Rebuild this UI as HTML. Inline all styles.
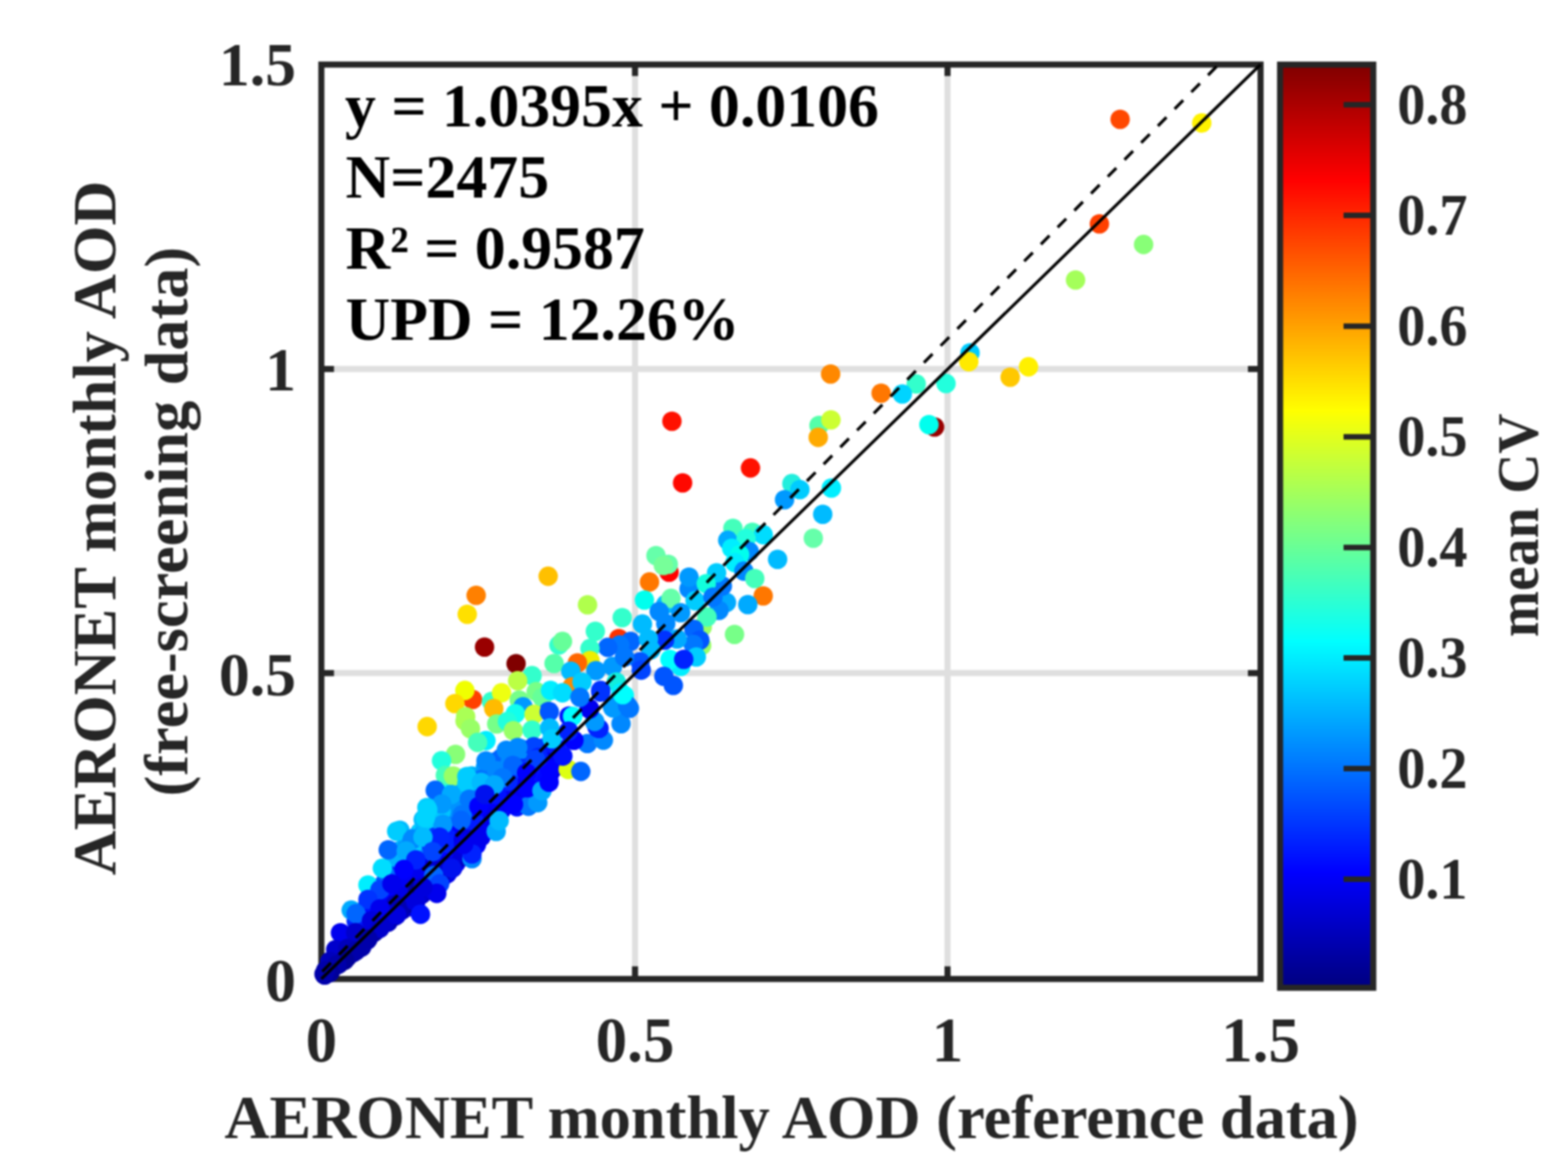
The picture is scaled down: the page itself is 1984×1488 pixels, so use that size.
<!DOCTYPE html>
<html lang="en"><head><meta charset="utf-8"><title>AERONET monthly AOD scatter</title>
<style>html,body{margin:0;padding:0;background:#fff}body{width:1984px;height:1488px;overflow:hidden}svg{display:block;filter:blur(1px)}text{font-family:"Liberation Serif",serif;font-weight:bold}.t{fill:#262626;font-size:79.6px}.y{fill:#262626;font-size:78px}.l{fill:#262626;font-size:79px}.a{fill:#000;font-size:79px}.c{fill:#262626;font-size:73.5px}.m{fill:#262626;font-size:75px}</style></head><body>
<svg width="1984" height="1488" viewBox="0 0 1984 1488">
<rect width="1984" height="1488" fill="#fff"/>
<g stroke="#DFDFDF" stroke-width="7.7" fill="none">
<line x1="803.5" y1="81.7" x2="803.5" y2="1238.7"/>
<line x1="1198.9" y1="81.7" x2="1198.9" y2="1238.7"/>
<line x1="406.6" y1="851.7" x2="1595.0" y2="851.7"/>
<line x1="406.6" y1="466.9" x2="1595.0" y2="466.9"/>
</g>
<g stroke="#262626" stroke-width="7.7" fill="none">
<rect x="406.6" y="81.7" width="1188.4" height="1157.0"/>
<line x1="803.5" y1="1238.7" x2="803.5" y2="1222.7"/>
<line x1="803.5" y1="81.7" x2="803.5" y2="96.2"/>
<line x1="1198.9" y1="1238.7" x2="1198.9" y2="1222.7"/>
<line x1="1198.9" y1="81.7" x2="1198.9" y2="96.2"/>
<line x1="406.6" y1="851.7" x2="422.6" y2="851.7"/>
<line x1="1595.0" y1="851.7" x2="1579.0" y2="851.7"/>
<line x1="406.6" y1="466.9" x2="422.6" y2="466.9"/>
<line x1="1595.0" y1="466.9" x2="1579.0" y2="466.9"/>
</g>
<g id="fill">
<circle cx="410.9" cy="1233.7" r="12.3" fill="#0000B3"/>
<circle cx="418.6" cy="1227.7" r="12.3" fill="#000099"/>
<circle cx="428.6" cy="1219.7" r="12.3" fill="#00008F"/>
<circle cx="439.2" cy="1211.4" r="12.3" fill="#000091"/>
<circle cx="447.0" cy="1205.4" r="12.3" fill="#0000AA"/>
<circle cx="457.6" cy="1198.3" r="12.3" fill="#0000AA"/>
<circle cx="464.5" cy="1189.6" r="12.3" fill="#0000B3"/>
<circle cx="473.1" cy="1179.8" r="12.3" fill="#0000B6"/>
<circle cx="481.2" cy="1172.2" r="12.3" fill="#0000CA"/>
<circle cx="491.0" cy="1166.8" r="12.3" fill="#0000BD"/>
<circle cx="500.4" cy="1158.9" r="12.3" fill="#0000A1"/>
<circle cx="508.6" cy="1151.5" r="12.3" fill="#0000BF"/>
<circle cx="518.6" cy="1147.2" r="12.3" fill="#0000D1"/>
<circle cx="525.0" cy="1138.6" r="12.3" fill="#0000AB"/>
<circle cx="533.4" cy="1131.7" r="12.3" fill="#0000C8"/>
<circle cx="542.6" cy="1125.9" r="12.3" fill="#0000B7"/>
<circle cx="550.6" cy="1120.4" r="12.3" fill="#0000D8"/>
<circle cx="558.0" cy="1112.5" r="12.3" fill="#0000CE"/>
<circle cx="565.8" cy="1105.5" r="12.3" fill="#0000E8"/>
<circle cx="572.8" cy="1098.3" r="12.3" fill="#0000DE"/>
<circle cx="577.1" cy="1091.8" r="12.3" fill="#0000F2"/>
<circle cx="583.5" cy="1084.9" r="12.3" fill="#0000CF"/>
<circle cx="589.8" cy="1077.7" r="12.3" fill="#0000DB"/>
<circle cx="597.5" cy="1072.2" r="12.3" fill="#0000CF"/>
<circle cx="602.7" cy="1066.4" r="12.3" fill="#0000EE"/>
<circle cx="608.8" cy="1058.8" r="12.3" fill="#0000F1"/>
<circle cx="616.8" cy="1049.6" r="12.3" fill="#0002FF"/>
<circle cx="624.7" cy="1042.8" r="12.3" fill="#0000DD"/>
<circle cx="476.3" cy="1145.5" r="12.3" fill="#0011FF"/>
<circle cx="590.9" cy="1013.9" r="12.3" fill="#009CFF"/>
<circle cx="596.6" cy="1009.7" r="12.3" fill="#0077FF"/>
<circle cx="512.6" cy="1139.2" r="12.3" fill="#0000BB"/>
<circle cx="600.0" cy="1042.3" r="12.3" fill="#0000DC"/>
<circle cx="496.3" cy="1137.0" r="12.3" fill="#0000E2"/>
<circle cx="504.6" cy="1133.1" r="12.3" fill="#0000EF"/>
<circle cx="586.6" cy="1021.3" r="12.3" fill="#007FFF"/>
<circle cx="665.5" cy="996.0" r="12.3" fill="#0000FC"/>
<circle cx="601.3" cy="1062.9" r="12.3" fill="#0000E7"/>
<circle cx="619.0" cy="983.8" r="12.3" fill="#005EFF"/>
<circle cx="628.5" cy="977.3" r="12.3" fill="#0066FF"/>
<circle cx="690.0" cy="947.9" r="12.3" fill="#0044FF"/>
<circle cx="520.6" cy="1102.0" r="12.3" fill="#0018FF"/>
<circle cx="608.4" cy="985.6" r="12.3" fill="#0081FF"/>
<circle cx="656.0" cy="975.3" r="12.3" fill="#0000F8"/>
<circle cx="703.7" cy="947.5" r="12.3" fill="#000FFF"/>
<circle cx="492.9" cy="1153.2" r="12.3" fill="#0000DF"/>
<circle cx="571.5" cy="1081.0" r="12.3" fill="#0000D3"/>
<circle cx="580.1" cy="1077.1" r="12.3" fill="#0000D7"/>
<circle cx="572.4" cy="1052.4" r="12.3" fill="#0065FF"/>
<circle cx="552.5" cy="1021.5" r="12.3" fill="#00E3FF"/>
<circle cx="696.1" cy="961.4" r="12.3" fill="#0004FF"/>
<circle cx="619.9" cy="1023.1" r="12.3" fill="#0000F9"/>
<circle cx="513.7" cy="1118.3" r="12.3" fill="#0020FF"/>
<circle cx="569.7" cy="1059.8" r="12.3" fill="#0038FF"/>
<circle cx="674.2" cy="994.5" r="12.3" fill="#0000F8"/>
<circle cx="684.0" cy="962.9" r="12.3" fill="#0000DD"/>
<circle cx="476.6" cy="1152.5" r="12.3" fill="#0000F7"/>
<circle cx="652.8" cy="960.3" r="12.3" fill="#005CFF"/>
<circle cx="576.5" cy="1084.7" r="12.3" fill="#0000CC"/>
<circle cx="696.6" cy="950.5" r="12.3" fill="#0009FF"/>
<circle cx="419.8" cy="1224.5" r="12.3" fill="#000080"/>
<circle cx="564.9" cy="1057.6" r="12.3" fill="#0042FF"/>
<circle cx="601.4" cy="1049.4" r="12.3" fill="#0000CA"/>
<circle cx="613.1" cy="1028.1" r="12.3" fill="#0000EF"/>
<circle cx="570.6" cy="1044.7" r="12.3" fill="#0075FF"/>
<circle cx="576.0" cy="1082.5" r="12.3" fill="#0000D9"/>
<circle cx="490.7" cy="1149.3" r="12.3" fill="#0000D6"/>
<circle cx="537.4" cy="1072.8" r="12.3" fill="#0063FF"/>
<circle cx="586.3" cy="1054.3" r="12.3" fill="#0001FF"/>
<circle cx="635.0" cy="996.3" r="12.3" fill="#0004FF"/>
<circle cx="436.4" cy="1205.7" r="12.3" fill="#0000BD"/>
<circle cx="641.1" cy="980.7" r="12.3" fill="#0019FF"/>
<circle cx="519.4" cy="1073.1" r="12.3" fill="#009EFF"/>
<circle cx="646.0" cy="988.2" r="12.3" fill="#0033FF"/>
<circle cx="504.1" cy="1095.6" r="12.3" fill="#0073FF"/>
<circle cx="580.5" cy="1075.2" r="12.3" fill="#0000A3"/>
<circle cx="619.3" cy="1015.6" r="12.3" fill="#0016FF"/>
<circle cx="657.0" cy="1017.5" r="12.3" fill="#0000EB"/>
<circle cx="456.5" cy="1162.9" r="12.3" fill="#001DFF"/>
<circle cx="607.7" cy="998.5" r="12.3" fill="#0058FF"/>
<circle cx="470.5" cy="1164.9" r="12.3" fill="#0000B4"/>
<circle cx="558.0" cy="1091.9" r="12.3" fill="#0000CD"/>
<circle cx="648.3" cy="977.4" r="12.3" fill="#004BFF"/>
<circle cx="475.3" cy="1149.5" r="12.3" fill="#0012FF"/>
<circle cx="590.3" cy="991.7" r="12.3" fill="#00BFFF"/>
<circle cx="455.2" cy="1162.4" r="12.3" fill="#0025FF"/>
<circle cx="499.8" cy="1095.4" r="12.3" fill="#008EFF"/>
<circle cx="568.8" cy="1085.1" r="12.3" fill="#0000BD"/>
<circle cx="610.4" cy="996.0" r="12.3" fill="#0081FF"/>
<circle cx="553.6" cy="1070.0" r="12.3" fill="#0036FF"/>
<circle cx="693.4" cy="949.1" r="12.3" fill="#001FFF"/>
<circle cx="573.9" cy="1088.2" r="12.3" fill="#0000C9"/>
<circle cx="450.4" cy="1186.2" r="12.3" fill="#0000C7"/>
<circle cx="515.1" cy="1139.9" r="12.3" fill="#0000D8"/>
<circle cx="627.2" cy="996.0" r="12.3" fill="#001DFF"/>
<circle cx="655.8" cy="986.2" r="12.3" fill="#0002FF"/>
<circle cx="597.1" cy="1012.9" r="12.3" fill="#0047FF"/>
<circle cx="525.5" cy="1133.3" r="12.3" fill="#0000DD"/>
<circle cx="634.1" cy="1025.4" r="12.3" fill="#000BFF"/>
<circle cx="631.6" cy="1026.1" r="12.3" fill="#0000E1"/>
<circle cx="509.5" cy="1128.2" r="12.3" fill="#0000FB"/>
<circle cx="450.7" cy="1165.3" r="12.3" fill="#0024FF"/>
<circle cx="512.8" cy="1080.1" r="12.3" fill="#00ABFF"/>
<circle cx="600.7" cy="983.3" r="12.3" fill="#00C9FF"/>
<circle cx="579.3" cy="1004.6" r="12.3" fill="#00F9FF"/>
<circle cx="665.8" cy="979.4" r="12.3" fill="#0000DE"/>
<circle cx="610.7" cy="1018.4" r="12.3" fill="#0010FF"/>
<circle cx="522.1" cy="1109.4" r="12.3" fill="#0000E2"/>
<circle cx="566.3" cy="1004.4" r="12.3" fill="#00E0FF"/>
<circle cx="550.4" cy="1051.7" r="12.3" fill="#007CFF"/>
<circle cx="530.9" cy="1058.9" r="12.3" fill="#0079FF"/>
<circle cx="568.3" cy="1088.0" r="12.3" fill="#0000C1"/>
<circle cx="640.6" cy="1017.5" r="12.3" fill="#0000E7"/>
<circle cx="560.8" cy="1047.0" r="12.3" fill="#006BFF"/>
<circle cx="471.0" cy="1158.9" r="12.3" fill="#0000C1"/>
<circle cx="687.0" cy="982.6" r="12.3" fill="#0000E9"/>
<circle cx="632.2" cy="1020.2" r="12.3" fill="#0015FF"/>
<circle cx="628.2" cy="963.2" r="12.3" fill="#006DFF"/>
<circle cx="627.4" cy="982.9" r="12.3" fill="#0060FF"/>
<circle cx="519.2" cy="1131.8" r="12.3" fill="#0000D6"/>
<circle cx="488.6" cy="1124.8" r="12.3" fill="#0074FF"/>
<circle cx="540.9" cy="1089.1" r="12.3" fill="#003CFF"/>
<circle cx="591.9" cy="1011.1" r="12.3" fill="#0074FF"/>
<circle cx="641.8" cy="998.7" r="12.3" fill="#0038FF"/>
<circle cx="515.1" cy="1130.6" r="12.3" fill="#0000D3"/>
<circle cx="649.5" cy="972.9" r="12.3" fill="#001DFF"/>
<circle cx="594.6" cy="995.3" r="12.3" fill="#0074FF"/>
<circle cx="539.1" cy="1061.3" r="12.3" fill="#0095FF"/>
<circle cx="653.3" cy="996.2" r="12.3" fill="#0007FF"/>
<circle cx="684.8" cy="965.3" r="12.3" fill="#0015FF"/>
<circle cx="576.6" cy="997.3" r="12.3" fill="#00A6FF"/>
<circle cx="509.8" cy="1142.3" r="12.3" fill="#0000D0"/>
<circle cx="676.1" cy="985.5" r="12.3" fill="#0000F4"/>
<circle cx="621.2" cy="1036.1" r="12.3" fill="#0000EF"/>
<circle cx="628.9" cy="1006.0" r="12.3" fill="#000EFF"/>
<circle cx="626.1" cy="1003.3" r="12.3" fill="#0030FF"/>
<circle cx="489.7" cy="1148.1" r="12.3" fill="#0000CB"/>
<circle cx="677.1" cy="992.3" r="12.3" fill="#000AFF"/>
<circle cx="469.2" cy="1140.5" r="12.3" fill="#001AFF"/>
<circle cx="677.9" cy="995.1" r="12.3" fill="#0000C7"/>
<circle cx="536.9" cy="1045.6" r="12.3" fill="#00DFFF"/>
<circle cx="505.0" cy="1079.1" r="12.3" fill="#00B8FF"/>
<circle cx="528.8" cy="1072.1" r="12.3" fill="#0091FF"/>
<circle cx="587.5" cy="1070.1" r="12.3" fill="#0000FC"/>
<circle cx="483.8" cy="1133.8" r="12.3" fill="#0031FF"/>
<circle cx="516.0" cy="1104.4" r="12.3" fill="#0047FF"/>
<circle cx="531.5" cy="1053.0" r="12.3" fill="#00B6FF"/>
<circle cx="617.7" cy="995.1" r="12.3" fill="#0080FF"/>
<circle cx="500.3" cy="1149.1" r="12.3" fill="#0000B2"/>
<circle cx="557.0" cy="1100.4" r="12.3" fill="#0000AF"/>
<circle cx="452.0" cy="1197.2" r="12.3" fill="#0000B4"/>
<circle cx="629.1" cy="1000.6" r="12.3" fill="#001FFF"/>
<circle cx="629.0" cy="1024.6" r="12.3" fill="#0000D6"/>
<circle cx="581.6" cy="1054.6" r="12.3" fill="#002DFF"/>
<circle cx="614.2" cy="993.9" r="12.3" fill="#0061FF"/>
<circle cx="602.1" cy="1046.9" r="12.3" fill="#0000EA"/>
<circle cx="491.5" cy="1154.0" r="12.3" fill="#0000D0"/>
<circle cx="573.6" cy="1074.6" r="12.3" fill="#0000DD"/>
<circle cx="656.1" cy="967.0" r="12.3" fill="#003FFF"/>
<circle cx="600.1" cy="1007.7" r="12.3" fill="#006DFF"/>
<circle cx="555.0" cy="1052.7" r="12.3" fill="#007BFF"/>
<circle cx="632.0" cy="976.3" r="12.3" fill="#0046FF"/>
<circle cx="499.2" cy="1084.6" r="12.3" fill="#00BDFF"/>
<circle cx="625.7" cy="1000.2" r="12.3" fill="#0030FF"/>
<circle cx="584.6" cy="992.7" r="12.3" fill="#00B9FF"/>
<circle cx="516.7" cy="1124.2" r="12.3" fill="#0000EF"/>
<circle cx="637.3" cy="987.6" r="12.3" fill="#0031FF"/>
<circle cx="617.7" cy="976.7" r="12.3" fill="#0066FF"/>
<circle cx="625.9" cy="976.9" r="12.3" fill="#0067FF"/>
<circle cx="603.1" cy="1041.0" r="12.3" fill="#001BFF"/>
<circle cx="606.0" cy="987.9" r="12.3" fill="#0064FF"/>
<circle cx="561.6" cy="1101.7" r="12.3" fill="#0000B2"/>
<circle cx="600.7" cy="1063.0" r="12.3" fill="#0000C6"/>
<circle cx="698.1" cy="968.6" r="12.3" fill="#0000F0"/>
<circle cx="636.2" cy="1020.1" r="12.3" fill="#0000E7"/>
<circle cx="545.3" cy="1091.6" r="12.3" fill="#0000B2"/>
<circle cx="677.0" cy="982.7" r="12.3" fill="#0000F5"/>
<circle cx="477.4" cy="1176.0" r="12.3" fill="#0000DA"/>
<circle cx="655.0" cy="968.6" r="12.3" fill="#0031FF"/>
<circle cx="601.5" cy="1009.1" r="12.3" fill="#0062FF"/>
<circle cx="530.9" cy="1066.2" r="12.3" fill="#0053FF"/>
<circle cx="510.8" cy="1145.2" r="12.3" fill="#0000C0"/>
<circle cx="493.7" cy="1142.4" r="12.3" fill="#0000DE"/>
<circle cx="431.8" cy="1206.9" r="12.3" fill="#0000AD"/>
<circle cx="614.1" cy="1030.0" r="12.3" fill="#002AFF"/>
<circle cx="550.1" cy="1035.8" r="12.3" fill="#009FFF"/>
<circle cx="548.7" cy="1021.1" r="12.3" fill="#00F0FF"/>
<circle cx="528.4" cy="1129.9" r="12.3" fill="#0000AB"/>
<circle cx="571.5" cy="1090.8" r="12.3" fill="#0000F8"/>
<circle cx="563.9" cy="1014.1" r="12.3" fill="#00F8FF"/>
<circle cx="648.8" cy="999.0" r="12.3" fill="#0000F4"/>
<circle cx="578.6" cy="1067.0" r="12.3" fill="#0000EC"/>
<circle cx="672.2" cy="953.4" r="12.3" fill="#003FFF"/>
<circle cx="530.1" cy="1115.9" r="12.3" fill="#0000C7"/>
<circle cx="449.2" cy="1181.9" r="12.3" fill="#0000DD"/>
<circle cx="505.2" cy="1076.5" r="12.3" fill="#0091FF"/>
<circle cx="636.6" cy="1002.7" r="12.3" fill="#0000FB"/>
<circle cx="552.6" cy="1034.7" r="12.3" fill="#00D2FF"/>
<circle cx="537.8" cy="1064.3" r="12.3" fill="#00ABFF"/>
<circle cx="575.2" cy="1047.9" r="12.3" fill="#0044FF"/>
<circle cx="517.0" cy="1111.4" r="12.3" fill="#0002FF"/>
<circle cx="491.4" cy="1137.6" r="12.3" fill="#0010FF"/>
<circle cx="693.4" cy="944.0" r="12.3" fill="#0027FF"/>
<circle cx="543.3" cy="1059.8" r="12.3" fill="#0064FF"/>
<circle cx="439.5" cy="1199.6" r="12.3" fill="#0000BA"/>
<circle cx="538.2" cy="1040.8" r="12.3" fill="#00D8FF"/>
<circle cx="524.3" cy="1103.8" r="12.3" fill="#0022FF"/>
<circle cx="586.8" cy="1073.8" r="12.3" fill="#0000C9"/>
<circle cx="623.2" cy="994.7" r="12.3" fill="#0041FF"/>
<circle cx="584.0" cy="1002.3" r="12.3" fill="#00D5FF"/>
<circle cx="538.5" cy="1117.6" r="12.3" fill="#00008D"/>
<circle cx="650.9" cy="989.9" r="12.3" fill="#0000F4"/>
<circle cx="620.6" cy="1036.5" r="12.3" fill="#000EFF"/>
<circle cx="632.6" cy="1004.7" r="12.3" fill="#0006FF"/>
<circle cx="571.9" cy="1001.1" r="12.3" fill="#00E0FF"/>
<circle cx="679.6" cy="971.2" r="12.3" fill="#0013FF"/>
<circle cx="648.1" cy="1003.2" r="12.3" fill="#002AFF"/>
<circle cx="581.1" cy="1031.6" r="12.3" fill="#006BFF"/>
<circle cx="688.6" cy="952.6" r="12.3" fill="#000DFF"/>
<circle cx="568.5" cy="1033.4" r="12.3" fill="#007DFF"/>
<circle cx="555.8" cy="1098.4" r="12.3" fill="#0000F1"/>
<circle cx="507.4" cy="1144.7" r="12.3" fill="#0000BC"/>
<circle cx="698.6" cy="947.6" r="12.3" fill="#0000D3"/>
<circle cx="568.4" cy="1027.3" r="12.3" fill="#0091FF"/>
<circle cx="476.2" cy="1129.4" r="12.3" fill="#004BFF"/>
<circle cx="692.6" cy="965.9" r="12.3" fill="#0020FF"/>
<circle cx="703.1" cy="946.1" r="12.3" fill="#000FFF"/>
<circle cx="581.9" cy="1014.2" r="12.3" fill="#0098FF"/>
<circle cx="547.1" cy="1113.0" r="12.3" fill="#0000DF"/>
<circle cx="470.3" cy="1175.7" r="12.3" fill="#0000A1"/>
<circle cx="598.0" cy="1038.2" r="12.3" fill="#0000EA"/>
<circle cx="533.4" cy="1092.8" r="12.3" fill="#0026FF"/>
<circle cx="547.3" cy="1026.4" r="12.3" fill="#01FFFE"/>
<circle cx="682.2" cy="972.0" r="12.3" fill="#0000F4"/>
<circle cx="631.5" cy="995.2" r="12.3" fill="#0020FF"/>
<circle cx="511.1" cy="1099.0" r="12.3" fill="#004BFF"/>
<circle cx="564.5" cy="1041.3" r="12.3" fill="#0093FF"/>
<circle cx="656.0" cy="995.0" r="12.3" fill="#0000F6"/>
<circle cx="561.3" cy="1056.4" r="12.3" fill="#0013FF"/>
<circle cx="556.8" cy="1074.3" r="12.3" fill="#0005FF"/>
<circle cx="561.0" cy="1029.6" r="12.3" fill="#00B6FF"/>
<circle cx="656.4" cy="976.4" r="12.3" fill="#0033FF"/>
<circle cx="660.7" cy="1017.1" r="12.3" fill="#0000F8"/>
<circle cx="654.6" cy="993.2" r="12.3" fill="#0036FF"/>
<circle cx="567.2" cy="1076.1" r="12.3" fill="#001DFF"/>
<circle cx="571.3" cy="1071.4" r="12.3" fill="#0000FA"/>
<circle cx="638.3" cy="999.9" r="12.3" fill="#001BFF"/>
<circle cx="513.7" cy="1088.6" r="12.3" fill="#008FFF"/>
<circle cx="706.9" cy="959.0" r="12.3" fill="#0000E3"/>
<circle cx="487.2" cy="1150.3" r="12.3" fill="#0000EE"/>
<circle cx="632.6" cy="1022.2" r="12.3" fill="#0000F0"/>
<circle cx="529.0" cy="1127.9" r="12.3" fill="#0000A5"/>
<circle cx="555.7" cy="1108.1" r="12.3" fill="#0000B6"/>
<circle cx="562.8" cy="1051.3" r="12.3" fill="#0098FF"/>
<circle cx="599.6" cy="1051.6" r="12.3" fill="#0000D3"/>
<circle cx="545.6" cy="1071.5" r="12.3" fill="#0071FF"/>
<circle cx="637.1" cy="1014.8" r="12.3" fill="#0000E4"/>
<circle cx="472.3" cy="1166.5" r="12.3" fill="#000097"/>
<circle cx="509.3" cy="1147.7" r="12.3" fill="#0000DB"/>
<circle cx="645.2" cy="1003.0" r="12.3" fill="#0000FB"/>
<circle cx="596.3" cy="990.7" r="12.3" fill="#0065FF"/>
<circle cx="525.2" cy="1108.9" r="12.3" fill="#002DFF"/>
<circle cx="480.5" cy="1145.7" r="12.3" fill="#0000E8"/>
<circle cx="569.1" cy="1078.5" r="12.3" fill="#0000D2"/>
<circle cx="593.9" cy="1067.3" r="12.3" fill="#000095"/>
<circle cx="519.9" cy="1130.3" r="12.3" fill="#0000B7"/>
<circle cx="467.6" cy="1145.1" r="12.3" fill="#0026FF"/>
<circle cx="681.1" cy="989.9" r="12.3" fill="#0000E8"/>
<circle cx="551.7" cy="1020.4" r="12.3" fill="#00CFFF"/>
<circle cx="626.0" cy="989.1" r="12.3" fill="#005BFF"/>
<circle cx="473.2" cy="1149.9" r="12.3" fill="#0030FF"/>
<circle cx="492.5" cy="1099.6" r="12.3" fill="#0094FF"/>
<circle cx="499.3" cy="1109.4" r="12.3" fill="#004EFF"/>
<circle cx="563.8" cy="1019.8" r="12.3" fill="#00D4FF"/>
<circle cx="561.3" cy="1070.0" r="12.3" fill="#0000FA"/>
<circle cx="527.2" cy="1096.9" r="12.3" fill="#0020FF"/>
<circle cx="564.7" cy="1019.1" r="12.3" fill="#00D9FF"/>
<circle cx="573.9" cy="1027.8" r="12.3" fill="#0069FF"/>
<circle cx="610.1" cy="988.6" r="12.3" fill="#00A1FF"/>
<circle cx="603.8" cy="1003.9" r="12.3" fill="#0075FF"/>
<circle cx="664.9" cy="979.0" r="12.3" fill="#0000F3"/>
<circle cx="580.2" cy="1042.5" r="12.3" fill="#001DFF"/>
<circle cx="663.6" cy="1000.7" r="12.3" fill="#0000F3"/>
<circle cx="600.9" cy="1042.6" r="12.3" fill="#0000E7"/>
<circle cx="522.9" cy="1089.9" r="12.3" fill="#0054FF"/>
<circle cx="580.8" cy="996.4" r="12.3" fill="#00D0FF"/>
<circle cx="460.7" cy="1151.9" r="12.3" fill="#0054FF"/>
<circle cx="571.4" cy="1040.2" r="12.3" fill="#0076FF"/>
<circle cx="562.5" cy="1044.2" r="12.3" fill="#006DFF"/>
<circle cx="596.8" cy="981.9" r="12.3" fill="#00BEFF"/>
<circle cx="525.5" cy="1093.4" r="12.3" fill="#0044FF"/>
<circle cx="515.9" cy="1113.7" r="12.3" fill="#0006FF"/>
<circle cx="601.2" cy="1009.5" r="12.3" fill="#004BFF"/>
<circle cx="622.0" cy="980.7" r="12.3" fill="#008BFF"/>
<circle cx="671.7" cy="983.6" r="12.3" fill="#0000E4"/>
<circle cx="629.1" cy="994.4" r="12.3" fill="#002DFF"/>
<circle cx="619.4" cy="968.6" r="12.3" fill="#00A4FF"/>
<circle cx="563.0" cy="1083.3" r="12.3" fill="#0000A1"/>
<circle cx="554.9" cy="1047.4" r="12.3" fill="#0070FF"/>
<circle cx="616.9" cy="968.2" r="12.3" fill="#00A2FF"/>
<circle cx="593.1" cy="1070.5" r="12.3" fill="#0000CD"/>
<circle cx="423.5" cy="1215.5" r="12.3" fill="#0000EA"/>
<circle cx="502.5" cy="1151.7" r="12.3" fill="#0000E4"/>
<circle cx="606.2" cy="1036.7" r="12.3" fill="#0000E1"/>
<circle cx="530.2" cy="1127.5" r="12.3" fill="#0000B7"/>
<circle cx="517.2" cy="1127.1" r="12.3" fill="#0000E5"/>
<circle cx="523.5" cy="1125.6" r="12.3" fill="#0000C7"/>
<circle cx="685.4" cy="946.9" r="12.3" fill="#0040FF"/>
<circle cx="481.5" cy="1162.9" r="12.3" fill="#0000CB"/>
<circle cx="512.9" cy="1071.5" r="12.3" fill="#00E5FF"/>
<circle cx="591.6" cy="1022.2" r="12.3" fill="#006BFF"/>
<circle cx="614.2" cy="970.6" r="12.3" fill="#00A7FF"/>
<circle cx="569.6" cy="1052.3" r="12.3" fill="#0013FF"/>
<circle cx="540.5" cy="1068.9" r="12.3" fill="#0060FF"/>
<circle cx="580.6" cy="1009.4" r="12.3" fill="#00A7FF"/>
<circle cx="450.8" cy="1184.3" r="12.3" fill="#0000BE"/>
<circle cx="477.2" cy="1127.5" r="12.3" fill="#0049FF"/>
<circle cx="539.9" cy="1066.2" r="12.3" fill="#0047FF"/>
<circle cx="549.7" cy="1038.5" r="12.3" fill="#0096FF"/>
<circle cx="627.6" cy="1024.4" r="12.3" fill="#0000F5"/>
<circle cx="473.9" cy="1151.7" r="12.3" fill="#0006FF"/>
<circle cx="513.6" cy="1070.9" r="12.3" fill="#00A9FF"/>
<circle cx="653.9" cy="1003.8" r="12.3" fill="#0009FF"/>
<circle cx="657.5" cy="958.8" r="12.3" fill="#0016FF"/>
<circle cx="478.6" cy="1154.0" r="12.3" fill="#0000E3"/>
<circle cx="532.0" cy="1094.8" r="12.3" fill="#002DFF"/>
<circle cx="528.0" cy="1100.8" r="12.3" fill="#0013FF"/>
<circle cx="615.8" cy="1027.4" r="12.3" fill="#0001FF"/>
<circle cx="557.3" cy="1040.9" r="12.3" fill="#0096FF"/>
<circle cx="542.0" cy="1088.2" r="12.3" fill="#001DFF"/>
<circle cx="557.8" cy="1030.0" r="12.3" fill="#00BEFF"/>
<circle cx="648.7" cy="1008.0" r="12.3" fill="#0000D5"/>
<circle cx="487.5" cy="1135.1" r="12.3" fill="#0027FF"/>
<circle cx="531.3" cy="1071.3" r="12.3" fill="#0087FF"/>
<circle cx="539.3" cy="1110.7" r="12.3" fill="#0002FF"/>
<circle cx="594.0" cy="1031.9" r="12.3" fill="#0017FF"/>
<circle cx="467.0" cy="1153.9" r="12.3" fill="#0014FF"/>
<circle cx="563.0" cy="1006.8" r="12.3" fill="#00F6FF"/>
<circle cx="503.8" cy="1124.6" r="12.3" fill="#0031FF"/>
<circle cx="622.0" cy="1037.6" r="12.3" fill="#001EFF"/>
<circle cx="596.4" cy="1033.4" r="12.3" fill="#001BFF"/>
<circle cx="567.7" cy="1005.1" r="12.3" fill="#00F3FF"/>
<circle cx="563.3" cy="1006.0" r="12.3" fill="#16FFE9"/>
<circle cx="496.8" cy="1114.3" r="12.3" fill="#0043FF"/>
<circle cx="502.3" cy="1132.7" r="12.3" fill="#002FFF"/>
<circle cx="703.6" cy="960.6" r="12.3" fill="#0000DA"/>
<circle cx="585.2" cy="1052.3" r="12.3" fill="#0000F1"/>
<circle cx="558.0" cy="1054.4" r="12.3" fill="#005DFF"/>
<circle cx="624.7" cy="994.4" r="12.3" fill="#002FFF"/>
<circle cx="632.7" cy="998.3" r="12.3" fill="#0000F6"/>
<circle cx="538.7" cy="1117.2" r="12.3" fill="#0000C6"/>
<circle cx="622.2" cy="991.5" r="12.3" fill="#0046FF"/>
<circle cx="657.9" cy="989.1" r="12.3" fill="#0000FC"/>
<circle cx="486.9" cy="1117.4" r="12.3" fill="#0060FF"/>
<circle cx="578.8" cy="1050.9" r="12.3" fill="#002EFF"/>
<circle cx="678.8" cy="969.2" r="12.3" fill="#0000FF"/>
<circle cx="489.6" cy="1114.1" r="12.3" fill="#0052FF"/>
<circle cx="586.3" cy="1002.3" r="12.3" fill="#00CDFF"/>
<circle cx="607.0" cy="1019.4" r="12.3" fill="#0031FF"/>
<circle cx="595.3" cy="997.4" r="12.3" fill="#0097FF"/>
<circle cx="582.3" cy="999.1" r="12.3" fill="#00A0FF"/>
<circle cx="630.5" cy="992.0" r="12.3" fill="#0012FF"/>
<circle cx="575.0" cy="1085.7" r="12.3" fill="#0000C0"/>
<circle cx="576.9" cy="995.5" r="12.3" fill="#00CFFF"/>
<circle cx="493.8" cy="1103.9" r="12.3" fill="#005AFF"/>
<circle cx="457.0" cy="1172.5" r="12.3" fill="#0000E7"/>
<circle cx="596.0" cy="1014.6" r="12.3" fill="#0037FF"/>
<circle cx="468.9" cy="1154.7" r="12.3" fill="#0010FF"/>
<circle cx="645.8" cy="1012.3" r="12.3" fill="#0000DE"/>
<circle cx="684.3" cy="976.7" r="12.3" fill="#0012FF"/>
<circle cx="627.9" cy="974.4" r="12.3" fill="#001AFF"/>
<circle cx="550.9" cy="1096.9" r="12.3" fill="#0000CC"/>
<circle cx="591.7" cy="1006.8" r="12.3" fill="#0053FF"/>
<circle cx="556.0" cy="1012.2" r="12.3" fill="#00FCFF"/>
<circle cx="540.0" cy="1055.0" r="12.3" fill="#008BFF"/>
<circle cx="574.8" cy="1027.2" r="12.3" fill="#0072FF"/>
<circle cx="481.5" cy="1148.1" r="12.3" fill="#0000D6"/>
<circle cx="540.3" cy="1048.3" r="12.3" fill="#00C2FF"/>
<circle cx="661.9" cy="1008.2" r="12.3" fill="#0006FF"/>
<circle cx="657.7" cy="1007.5" r="12.3" fill="#0000F7"/>
<circle cx="472.8" cy="1140.4" r="12.3" fill="#000CFF"/>
<circle cx="542.4" cy="1092.2" r="12.3" fill="#0000EF"/>
<circle cx="651.4" cy="999.4" r="12.3" fill="#0000F7"/>
<circle cx="620.1" cy="1021.4" r="12.3" fill="#0000F6"/>
<circle cx="568.0" cy="1034.1" r="12.3" fill="#0060FF"/>
<circle cx="634.3" cy="1001.1" r="12.3" fill="#0032FF"/>
<circle cx="591.2" cy="1057.8" r="12.3" fill="#0000D7"/>
<circle cx="636.4" cy="969.9" r="12.3" fill="#004AFF"/>
<circle cx="474.6" cy="1169.2" r="12.3" fill="#0000C4"/>
<circle cx="590.7" cy="1067.3" r="12.3" fill="#0000CC"/>
<circle cx="606.6" cy="1051.5" r="12.3" fill="#0000F4"/>
<circle cx="611.5" cy="999.4" r="12.3" fill="#003EFF"/>
<circle cx="594.3" cy="1057.4" r="12.3" fill="#0000E0"/>
<circle cx="543.3" cy="1057.3" r="12.3" fill="#009CFF"/>
<circle cx="543.6" cy="1062.9" r="12.3" fill="#0064FF"/>
<circle cx="578.2" cy="1086.3" r="12.3" fill="#0000C8"/>
<circle cx="704.4" cy="963.9" r="12.3" fill="#003CFF"/>
<circle cx="653.2" cy="1009.4" r="12.3" fill="#0000CD"/>
<circle cx="492.6" cy="1133.3" r="12.3" fill="#0019FF"/>
<circle cx="679.5" cy="977.5" r="12.3" fill="#000CFF"/>
<circle cx="465.8" cy="1163.9" r="12.3" fill="#0000CE"/>
<circle cx="576.4" cy="1001.8" r="12.3" fill="#00ACFF"/>
<circle cx="550.5" cy="1069.2" r="12.3" fill="#002EFF"/>
<circle cx="618.6" cy="977.1" r="12.3" fill="#009BFF"/>
<circle cx="634.1" cy="969.8" r="12.3" fill="#0056FF"/>
<circle cx="535.3" cy="1075.2" r="12.3" fill="#006DFF"/>
<circle cx="701.0" cy="945.5" r="12.3" fill="#0000FE"/>
<circle cx="642.5" cy="971.0" r="12.3" fill="#0072FF"/>
<circle cx="557.0" cy="1015.1" r="12.3" fill="#03FFFC"/>
<circle cx="567.5" cy="1039.7" r="12.3" fill="#0053FF"/>
<circle cx="423.8" cy="1219.3" r="12.3" fill="#0019FF"/>
<circle cx="592.4" cy="1072.8" r="12.3" fill="#0000B2"/>
<circle cx="539.6" cy="1115.5" r="12.3" fill="#0000AE"/>
<circle cx="509.9" cy="1129.5" r="12.3" fill="#0000F6"/>
<circle cx="537.0" cy="1088.4" r="12.3" fill="#0037FF"/>
<circle cx="629.0" cy="973.2" r="12.3" fill="#0074FF"/>
<circle cx="563.5" cy="1051.8" r="12.3" fill="#005AFF"/>
<circle cx="535.5" cy="1066.0" r="12.3" fill="#008EFF"/>
<circle cx="636.9" cy="1018.6" r="12.3" fill="#0013FF"/>
<circle cx="456.1" cy="1175.3" r="12.3" fill="#0000F5"/>
<circle cx="624.4" cy="986.2" r="12.3" fill="#0058FF"/>
<circle cx="643.9" cy="1005.8" r="12.3" fill="#0000F1"/>
<circle cx="547.8" cy="1062.7" r="12.3" fill="#0047FF"/>
<circle cx="643.0" cy="973.9" r="12.3" fill="#0026FF"/>
<circle cx="576.7" cy="1022.6" r="12.3" fill="#00AFFF"/>
<circle cx="567.3" cy="1017.4" r="12.3" fill="#00CFFF"/>
<circle cx="554.6" cy="1037.4" r="12.3" fill="#008FFF"/>
<circle cx="488.4" cy="1114.3" r="12.3" fill="#004DFF"/>
<circle cx="482.7" cy="1158.6" r="12.3" fill="#0000D8"/>
<circle cx="608.3" cy="1043.9" r="12.3" fill="#0004FF"/>
<circle cx="570.1" cy="1029.0" r="12.3" fill="#0087FF"/>
<circle cx="435.5" cy="1199.0" r="12.3" fill="#0000D3"/>
<circle cx="508.3" cy="1136.9" r="12.3" fill="#0000D5"/>
<circle cx="642.9" cy="958.4" r="12.3" fill="#0073FF"/>
<circle cx="587.1" cy="1047.7" r="12.3" fill="#0007FF"/>
<circle cx="622.6" cy="1039.0" r="12.3" fill="#0000F4"/>
<circle cx="598.7" cy="983.0" r="12.3" fill="#00AEFF"/>
<circle cx="586.7" cy="1019.7" r="12.3" fill="#006CFF"/>
<circle cx="593.3" cy="996.6" r="12.3" fill="#00C2FF"/>
<circle cx="673.6" cy="988.0" r="12.3" fill="#0002FF"/>
<circle cx="499.2" cy="1112.0" r="12.3" fill="#002DFF"/>
<circle cx="577.0" cy="994.8" r="12.3" fill="#00CDFF"/>
<circle cx="499.7" cy="1148.5" r="12.3" fill="#0000BE"/>
<circle cx="561.7" cy="1082.1" r="12.3" fill="#0000E7"/>
<circle cx="695.6" cy="949.1" r="12.3" fill="#0027FF"/>
<circle cx="582.6" cy="1023.3" r="12.3" fill="#006AFF"/>
<circle cx="509.8" cy="1077.4" r="12.3" fill="#00AFFF"/>
<circle cx="471.7" cy="1143.5" r="12.3" fill="#0024FF"/>
<circle cx="684.2" cy="960.4" r="12.3" fill="#000CFF"/>
<circle cx="550.9" cy="1106.1" r="12.3" fill="#0000EE"/>
<circle cx="684.1" cy="962.5" r="12.3" fill="#0014FF"/>
<circle cx="440.9" cy="1199.6" r="12.3" fill="#0000D0"/>
<circle cx="456.0" cy="1191.4" r="12.3" fill="#0000C4"/>
<circle cx="603.4" cy="992.7" r="12.3" fill="#0096FF"/>
<circle cx="556.2" cy="1088.4" r="12.3" fill="#000EFF"/>
<circle cx="484.2" cy="1167.2" r="12.3" fill="#0000A3"/>
<circle cx="536.7" cy="1105.0" r="12.3" fill="#0000F7"/>
<circle cx="481.8" cy="1160.0" r="12.3" fill="#0000DD"/>
<circle cx="425.4" cy="1212.8" r="12.3" fill="#0000AB"/>
<circle cx="441.6" cy="1202.4" r="12.3" fill="#0000AE"/>
<circle cx="581.4" cy="1043.9" r="12.3" fill="#001CFF"/>
<circle cx="625.8" cy="989.6" r="12.3" fill="#0074FF"/>
<circle cx="530.4" cy="1076.5" r="12.3" fill="#0092FF"/>
<circle cx="603.0" cy="1057.6" r="12.3" fill="#0004FF"/>
<circle cx="558.4" cy="1082.0" r="12.3" fill="#0000C7"/>
<circle cx="654.1" cy="1020.9" r="12.3" fill="#0011FF"/>
<circle cx="628.6" cy="1029.9" r="12.3" fill="#0000E8"/>
<circle cx="501.6" cy="1099.4" r="12.3" fill="#0057FF"/>
<circle cx="595.7" cy="1068.4" r="12.3" fill="#0000FD"/>
<circle cx="676.9" cy="1006.9" r="12.3" fill="#0003FF"/>
<circle cx="671.5" cy="1005.9" r="12.3" fill="#0000C9"/>
<circle cx="601.6" cy="1029.6" r="12.3" fill="#004AFF"/>
<circle cx="655.6" cy="1013.8" r="12.3" fill="#0000F0"/>
<circle cx="599.5" cy="1044.7" r="12.3" fill="#0000D3"/>
<circle cx="472.7" cy="1142.2" r="12.3" fill="#0033FF"/>
<circle cx="637.3" cy="986.1" r="12.3" fill="#003DFF"/>
<circle cx="471.8" cy="1144.5" r="12.3" fill="#0026FF"/>
<circle cx="691.2" cy="956.4" r="12.3" fill="#000AFF"/>
<circle cx="666.2" cy="970.3" r="12.3" fill="#0042FF"/>
<circle cx="661.1" cy="980.7" r="12.3" fill="#0016FF"/>
<circle cx="702.6" cy="958.7" r="12.3" fill="#0000FB"/>
<circle cx="502.9" cy="1109.1" r="12.3" fill="#0028FF"/>
<circle cx="674.8" cy="996.7" r="12.3" fill="#0000F9"/>
<circle cx="535.5" cy="1067.0" r="12.3" fill="#0065FF"/>
<circle cx="528.7" cy="1086.3" r="12.3" fill="#005AFF"/>
<circle cx="647.8" cy="986.0" r="12.3" fill="#0000FC"/>
<circle cx="528.0" cy="1064.3" r="12.3" fill="#005BFF"/>
<circle cx="565.1" cy="1051.1" r="12.3" fill="#0058FF"/>
<circle cx="558.0" cy="1051.1" r="12.3" fill="#005EFF"/>
<circle cx="586.9" cy="1004.7" r="12.3" fill="#007DFF"/>
<circle cx="548.6" cy="1023.3" r="12.3" fill="#00D8FF"/>
<circle cx="541.1" cy="1038.5" r="12.3" fill="#00C6FF"/>
<circle cx="589.2" cy="1053.7" r="12.3" fill="#001CFF"/>
<circle cx="616.7" cy="1035.2" r="12.3" fill="#0000CD"/>
<circle cx="563.0" cy="1009.4" r="12.3" fill="#00E9FF"/>
<circle cx="608.4" cy="986.1" r="12.3" fill="#007CFF"/>
<circle cx="571.7" cy="1083.7" r="12.3" fill="#0000B8"/>
<circle cx="617.9" cy="995.1" r="12.3" fill="#0035FF"/>
<circle cx="557.2" cy="1070.0" r="12.3" fill="#0036FF"/>
<circle cx="480.5" cy="1122.9" r="12.3" fill="#0055FF"/>
<circle cx="541.5" cy="1105.1" r="12.3" fill="#0000D7"/>
<circle cx="516.1" cy="1088.8" r="12.3" fill="#00A2FF"/>
<circle cx="551.8" cy="1070.1" r="12.3" fill="#0046FF"/>
<circle cx="533.4" cy="1052.1" r="12.3" fill="#00D7FF"/>
<circle cx="496.8" cy="1095.0" r="12.3" fill="#0083FF"/>
<circle cx="613.2" cy="1039.7" r="12.3" fill="#0000DD"/>
<circle cx="685.5" cy="995.2" r="12.3" fill="#0000FF"/>
<circle cx="559.9" cy="1016.8" r="12.3" fill="#00DFFF"/>
<circle cx="561.7" cy="1042.5" r="12.3" fill="#0064FF"/>
<circle cx="535.9" cy="1081.3" r="12.3" fill="#003CFF"/>
<circle cx="652.9" cy="1018.8" r="12.3" fill="#0010FF"/>
<circle cx="481.6" cy="1166.9" r="12.3" fill="#0000A4"/>
<circle cx="576.1" cy="1081.9" r="12.3" fill="#0000BE"/>
<circle cx="562.8" cy="1016.5" r="12.3" fill="#00EAFF"/>
<circle cx="566.6" cy="1056.8" r="12.3" fill="#0025FF"/>
<circle cx="665.1" cy="1003.1" r="12.3" fill="#0000EC"/>
<circle cx="574.5" cy="1059.1" r="12.3" fill="#002FFF"/>
<circle cx="571.0" cy="1036.3" r="12.3" fill="#0062FF"/>
<circle cx="430.4" cy="1209.6" r="12.3" fill="#0000B0"/>
<circle cx="575.9" cy="1013.3" r="12.3" fill="#00BBFF"/>
<circle cx="631.6" cy="1017.3" r="12.3" fill="#0000F8"/>
<circle cx="620.3" cy="1004.3" r="12.3" fill="#002EFF"/>
<circle cx="605.7" cy="1035.3" r="12.3" fill="#0000EB"/>
<circle cx="670.8" cy="1002.0" r="12.3" fill="#0000F8"/>
<circle cx="610.6" cy="1003.8" r="12.3" fill="#004CFF"/>
<circle cx="641.8" cy="954.3" r="12.3" fill="#007EFF"/>
<circle cx="434.4" cy="1200.9" r="12.3" fill="#0000CD"/>
<circle cx="467.0" cy="1154.2" r="12.3" fill="#0002FF"/>
<circle cx="484.5" cy="1128.2" r="12.3" fill="#003BFF"/>
<circle cx="633.9" cy="959.6" r="12.3" fill="#0064FF"/>
<circle cx="608.1" cy="1031.8" r="12.3" fill="#000AFF"/>
<circle cx="448.6" cy="1190.4" r="12.3" fill="#0000AF"/>
<circle cx="575.9" cy="1016.9" r="12.3" fill="#008EFF"/>
<circle cx="650.9" cy="1013.4" r="12.3" fill="#0000DD"/>
<circle cx="595.4" cy="1033.9" r="12.3" fill="#002EFF"/>
<circle cx="565.1" cy="1009.1" r="12.3" fill="#00EAFF"/>
<circle cx="608.9" cy="1041.8" r="12.3" fill="#0000EF"/>
<circle cx="641.0" cy="972.6" r="12.3" fill="#004FFF"/>
<circle cx="692.5" cy="971.5" r="12.3" fill="#001FFF"/>
<circle cx="600.0" cy="992.0" r="12.3" fill="#00B8FF"/>
<circle cx="576.6" cy="1069.5" r="12.3" fill="#0000DE"/>
<circle cx="699.4" cy="973.0" r="12.3" fill="#0000FF"/>
<circle cx="501.7" cy="1085.2" r="12.3" fill="#0086FF"/>
<circle cx="568.2" cy="1049.4" r="12.3" fill="#003EFF"/>
<circle cx="437.1" cy="1211.0" r="12.3" fill="#0000D1"/>
<circle cx="516.2" cy="1075.3" r="12.3" fill="#0098FF"/>
<circle cx="456.7" cy="1158.2" r="12.3" fill="#003DFF"/>
<circle cx="571.9" cy="1087.1" r="12.3" fill="#0000C9"/>
<circle cx="621.1" cy="1037.5" r="12.3" fill="#0001FF"/>
<circle cx="496.7" cy="1122.7" r="12.3" fill="#0033FF"/>
<circle cx="560.6" cy="1079.3" r="12.3" fill="#0000DD"/>
<circle cx="694.8" cy="980.7" r="12.3" fill="#0000E4"/>
<circle cx="664.5" cy="1005.3" r="12.3" fill="#0000FE"/>
<circle cx="629.7" cy="986.4" r="12.3" fill="#0032FF"/>
<circle cx="614.8" cy="973.2" r="12.3" fill="#009AFF"/>
<circle cx="489.6" cy="1133.0" r="12.3" fill="#0042FF"/>
<circle cx="514.0" cy="1122.1" r="12.3" fill="#0000FA"/>
<circle cx="660.3" cy="954.3" r="12.3" fill="#007BFF"/>
<circle cx="579.4" cy="1078.8" r="12.3" fill="#0000DC"/>
<circle cx="601.9" cy="1002.8" r="12.3" fill="#004CFF"/>
<circle cx="486.8" cy="1167.1" r="12.3" fill="#0000CC"/>
<circle cx="567.1" cy="1006.8" r="12.3" fill="#00D3FF"/>
<circle cx="623.1" cy="998.7" r="12.3" fill="#005EFF"/>
<circle cx="467.2" cy="1170.1" r="12.3" fill="#0000C7"/>
<circle cx="501.1" cy="1141.3" r="12.3" fill="#0000C8"/>
<circle cx="447.8" cy="1183.6" r="12.3" fill="#0000ED"/>
<circle cx="623.1" cy="972.5" r="12.3" fill="#0064FF"/>
<circle cx="470.3" cy="1176.9" r="12.3" fill="#0000BB"/>
<circle cx="476.6" cy="1133.3" r="12.3" fill="#0040FF"/>
<circle cx="514.6" cy="1143.4" r="12.3" fill="#000092"/>
<circle cx="461.3" cy="1170.6" r="12.3" fill="#0000F4"/>
<circle cx="470.2" cy="1146.2" r="12.3" fill="#0027FF"/>
<circle cx="558.5" cy="1037.8" r="12.3" fill="#00ABFF"/>
<circle cx="642.1" cy="979.0" r="12.3" fill="#002FFF"/>
<circle cx="528.1" cy="1098.5" r="12.3" fill="#0007FF"/>
<circle cx="451.3" cy="1198.0" r="12.3" fill="#00008E"/>
<circle cx="545.5" cy="1096.8" r="12.3" fill="#0003FF"/>
<circle cx="546.9" cy="1070.4" r="12.3" fill="#0022FF"/>
<circle cx="574.1" cy="1002.5" r="12.3" fill="#00D5FF"/>
<circle cx="540.3" cy="1064.7" r="12.3" fill="#0081FF"/>
<circle cx="555.6" cy="1065.7" r="12.3" fill="#0035FF"/>
<circle cx="554.1" cy="1054.1" r="12.3" fill="#0051FF"/>
<circle cx="562.9" cy="1018.7" r="12.3" fill="#00CBFF"/>
<circle cx="553.1" cy="1089.7" r="12.3" fill="#0000E9"/>
<circle cx="459.5" cy="1187.7" r="12.3" fill="#0000A7"/>
<circle cx="572.4" cy="1057.5" r="12.3" fill="#0001FF"/>
<circle cx="501.5" cy="1132.6" r="12.3" fill="#0000E1"/>
<circle cx="660.8" cy="992.2" r="12.3" fill="#0000D8"/>
<circle cx="527.8" cy="1131.5" r="12.3" fill="#0003FF"/>
<circle cx="620.3" cy="1035.0" r="12.3" fill="#0000EC"/>
<circle cx="473.0" cy="1157.0" r="12.3" fill="#0004FF"/>
<circle cx="576.5" cy="998.7" r="12.3" fill="#00D2FF"/>
<circle cx="474.7" cy="1177.8" r="12.3" fill="#000097"/>
<circle cx="560.5" cy="1095.9" r="12.3" fill="#0000D7"/>
<circle cx="503.2" cy="1106.2" r="12.3" fill="#0044FF"/>
<circle cx="526.4" cy="1079.6" r="12.3" fill="#0058FF"/>
<circle cx="505.4" cy="1085.7" r="12.3" fill="#00B4FF"/>
<circle cx="536.1" cy="1052.7" r="12.3" fill="#00ADFF"/>
<circle cx="423.3" cy="1221.1" r="12.3" fill="#000094"/>
<circle cx="655.7" cy="969.9" r="12.3" fill="#0031FF"/>
<circle cx="692.9" cy="948.0" r="12.3" fill="#0017FF"/>
<circle cx="551.8" cy="1060.8" r="12.3" fill="#0036FF"/>
<circle cx="592.6" cy="1028.1" r="12.3" fill="#0045FF"/>
<circle cx="539.2" cy="1084.9" r="12.3" fill="#000EFF"/>
<circle cx="515.1" cy="1075.1" r="12.3" fill="#009DFF"/>
<circle cx="611.1" cy="999.2" r="12.3" fill="#0067FF"/>
<circle cx="607.5" cy="994.3" r="12.3" fill="#005EFF"/>
<circle cx="593.6" cy="1062.2" r="12.3" fill="#0000E2"/>
<circle cx="455.2" cy="1179.6" r="12.3" fill="#0000F6"/>
<circle cx="566.7" cy="1061.0" r="12.3" fill="#001BFF"/>
<circle cx="557.0" cy="1075.3" r="12.3" fill="#0011FF"/>
<circle cx="533.5" cy="1070.8" r="12.3" fill="#0083FF"/>
<circle cx="450.3" cy="1200.0" r="12.3" fill="#0000B5"/>
<circle cx="657.9" cy="975.4" r="12.3" fill="#0013FF"/>
<circle cx="630.4" cy="991.2" r="12.3" fill="#0039FF"/>
<circle cx="503.9" cy="1109.8" r="12.3" fill="#001FFF"/>
<circle cx="634.8" cy="993.2" r="12.3" fill="#0045FF"/>
<circle cx="650.3" cy="1015.4" r="12.3" fill="#000BFF"/>
<circle cx="542.3" cy="1041.1" r="12.3" fill="#00CBFF"/>
<circle cx="656.2" cy="955.2" r="12.3" fill="#0032FF"/>
<circle cx="561.1" cy="1079.0" r="12.3" fill="#0005FF"/>
<circle cx="508.2" cy="1112.3" r="12.3" fill="#0000F4"/>
<circle cx="558.2" cy="1064.2" r="12.3" fill="#0058FF"/>
<circle cx="511.4" cy="1092.5" r="12.3" fill="#0066FF"/>
<circle cx="572.8" cy="1023.2" r="12.3" fill="#00C8FF"/>
<circle cx="629.6" cy="986.4" r="12.3" fill="#005FFF"/>
<circle cx="659.9" cy="980.5" r="12.3" fill="#0026FF"/>
<circle cx="549.3" cy="1105.8" r="12.3" fill="#0000DB"/>
<circle cx="641.3" cy="998.8" r="12.3" fill="#0015FF"/>
<circle cx="554.5" cy="1011.6" r="12.3" fill="#06FFF9"/>
<circle cx="581.6" cy="1000.3" r="12.3" fill="#00ACFF"/>
<circle cx="594.3" cy="1001.6" r="12.3" fill="#0084FF"/>
<circle cx="501.8" cy="1084.9" r="12.3" fill="#00B3FF"/>
<circle cx="574.1" cy="1009.8" r="12.3" fill="#00D1FF"/>
<circle cx="549.7" cy="1089.7" r="12.3" fill="#0000E1"/>
<circle cx="594.8" cy="1019.5" r="12.3" fill="#007BFF"/>
<circle cx="678.3" cy="953.7" r="12.3" fill="#004CFF"/>
<circle cx="652.1" cy="987.4" r="12.3" fill="#0000EE"/>
<circle cx="681.2" cy="977.1" r="12.3" fill="#000EFF"/>
<circle cx="642.2" cy="981.6" r="12.3" fill="#002BFF"/>
<circle cx="547.7" cy="1078.6" r="12.3" fill="#001EFF"/>
<circle cx="637.1" cy="990.7" r="12.3" fill="#0026FF"/>
<circle cx="522.7" cy="1068.5" r="12.3" fill="#00C8FF"/>
<circle cx="473.6" cy="1162.3" r="12.3" fill="#0000F6"/>
<circle cx="567.9" cy="1067.3" r="12.3" fill="#001FFF"/>
<circle cx="565.4" cy="1096.0" r="12.3" fill="#0000E0"/>
<circle cx="467.9" cy="1167.2" r="12.3" fill="#0000CD"/>
<circle cx="539.2" cy="1108.7" r="12.3" fill="#0000E0"/>
<circle cx="564.5" cy="1099.8" r="12.3" fill="#0000BA"/>
<circle cx="649.4" cy="1000.5" r="12.3" fill="#0000EF"/>
<circle cx="556.5" cy="1032.4" r="12.3" fill="#00D2FF"/>
<circle cx="493.8" cy="1111.5" r="12.3" fill="#006EFF"/>
<circle cx="507.7" cy="1134.0" r="12.3" fill="#0000E5"/>
<circle cx="647.6" cy="959.7" r="12.3" fill="#0035FF"/>
<circle cx="486.3" cy="1133.8" r="12.3" fill="#0000FC"/>
<circle cx="572.2" cy="1023.6" r="12.3" fill="#006EFF"/>
<circle cx="535.0" cy="1127.0" r="12.3" fill="#0000D3"/>
<circle cx="551.7" cy="1070.5" r="12.3" fill="#0036FF"/>
<circle cx="668.1" cy="998.8" r="12.3" fill="#0000F6"/>
<circle cx="576.5" cy="1023.4" r="12.3" fill="#0092FF"/>
<circle cx="646.2" cy="976.5" r="12.3" fill="#0068FF"/>
<circle cx="531.9" cy="1106.2" r="12.3" fill="#0000EF"/>
<circle cx="551.1" cy="1058.8" r="12.3" fill="#003CFF"/>
<circle cx="610.0" cy="985.6" r="12.3" fill="#0075FF"/>
<circle cx="500.0" cy="1144.6" r="12.3" fill="#0000C6"/>
<circle cx="586.6" cy="1063.1" r="12.3" fill="#0000B3"/>
<circle cx="551.2" cy="1101.2" r="12.3" fill="#0000D1"/>
<circle cx="474.0" cy="1145.6" r="12.3" fill="#000CFF"/>
<circle cx="558.2" cy="1026.9" r="12.3" fill="#00C4FF"/>
<circle cx="599.1" cy="1036.0" r="12.3" fill="#001BFF"/>
<circle cx="649.7" cy="1016.8" r="12.3" fill="#0000F1"/>
<circle cx="586.5" cy="1061.0" r="12.3" fill="#0000E5"/>
<circle cx="506.6" cy="1150.8" r="12.3" fill="#0000B4"/>
<circle cx="691.5" cy="986.3" r="12.3" fill="#0007FF"/>
<circle cx="454.3" cy="1161.9" r="12.3" fill="#001BFF"/>
<circle cx="693.3" cy="964.3" r="12.3" fill="#0000EB"/>
<circle cx="528.5" cy="1127.4" r="12.3" fill="#0000A2"/>
<circle cx="643.1" cy="988.4" r="12.3" fill="#0026FF"/>
</g>
<g id="pts">
<circle cx="1417.3" cy="151.0" r="12.3" fill="#FF4800"/>
<circle cx="1520.6" cy="155.6" r="12.3" fill="#FFF200"/>
<circle cx="1391.1" cy="283.2" r="12.3" fill="#FF4000"/>
<circle cx="1447.0" cy="309.4" r="12.3" fill="#88FF77"/>
<circle cx="1360.9" cy="354.2" r="12.3" fill="#A4FF5A"/>
<circle cx="1051.0" cy="473.3" r="12.3" fill="#FF8800"/>
<circle cx="1227.4" cy="446.5" r="12.3" fill="#00CCFF"/>
<circle cx="1225.8" cy="457.6" r="12.3" fill="#FFEA00"/>
<circle cx="1301.4" cy="464.1" r="12.3" fill="#FFF000"/>
<circle cx="1278.2" cy="477.2" r="12.3" fill="#FFC800"/>
<circle cx="1159.3" cy="485.8" r="12.3" fill="#33FFCC"/>
<circle cx="1197.0" cy="485.2" r="12.3" fill="#22FFDD"/>
<circle cx="1114.9" cy="497.5" r="12.3" fill="#FF7700"/>
<circle cx="1141.7" cy="498.5" r="12.3" fill="#00D4FF"/>
<circle cx="1182.5" cy="540.3" r="12.3" fill="#990000"/>
<circle cx="1175.4" cy="537.3" r="12.3" fill="#00FFEE"/>
<circle cx="1036.3" cy="538.3" r="12.3" fill="#55FFAA"/>
<circle cx="1051.4" cy="531.2" r="12.3" fill="#CCFF33"/>
<circle cx="1035.3" cy="553.4" r="12.3" fill="#FFAA00"/>
<circle cx="1052.0" cy="617.5" r="12.3" fill="#00EEFF"/>
<circle cx="1002.0" cy="611.9" r="12.3" fill="#22EEDD"/>
<circle cx="1012.1" cy="619.5" r="12.3" fill="#00CCFF"/>
<circle cx="992.7" cy="632.2" r="12.3" fill="#0099FF"/>
<circle cx="1041.0" cy="650.8" r="12.3" fill="#00BBFF"/>
<circle cx="1029.1" cy="681.0" r="12.3" fill="#66FFAA"/>
<circle cx="850.2" cy="533.0" r="12.3" fill="#FF1100"/>
<circle cx="863.7" cy="611.0" r="12.3" fill="#FF0800"/>
<circle cx="949.6" cy="592.1" r="12.3" fill="#FF1100"/>
<circle cx="983.9" cy="707.8" r="12.3" fill="#00BBFF"/>
<circle cx="927.4" cy="668.5" r="12.3" fill="#44FFBB"/>
<circle cx="952.0" cy="673.5" r="12.3" fill="#44FFBB"/>
<circle cx="965.7" cy="676.6" r="12.3" fill="#00DDFF"/>
<circle cx="920.8" cy="683.6" r="12.3" fill="#00AAFF"/>
<circle cx="944.0" cy="681.6" r="12.3" fill="#22FFDD"/>
<circle cx="948.0" cy="697.7" r="12.3" fill="#0088FF"/>
<circle cx="925.8" cy="693.7" r="12.3" fill="#00EEFF"/>
<circle cx="935.9" cy="701.8" r="12.3" fill="#00FFEE"/>
<circle cx="929.8" cy="711.9" r="12.3" fill="#00EEFF"/>
<circle cx="941.2" cy="722.6" r="12.3" fill="#0088FF"/>
<circle cx="955.0" cy="732.0" r="12.3" fill="#44FFBB"/>
<circle cx="965.7" cy="754.0" r="12.3" fill="#FF7700"/>
<circle cx="946.2" cy="765.0" r="12.3" fill="#00AAFF"/>
<circle cx="919.2" cy="762.3" r="12.3" fill="#00AAFF"/>
<circle cx="909.7" cy="772.2" r="12.3" fill="#0088FF"/>
<circle cx="914.0" cy="741.6" r="12.3" fill="#0077FF"/>
<circle cx="906.7" cy="724.7" r="12.3" fill="#00CCFF"/>
<circle cx="871.9" cy="745.0" r="12.3" fill="#0088FF"/>
<circle cx="871.8" cy="730.3" r="12.3" fill="#0099FF"/>
<circle cx="893.6" cy="738.6" r="12.3" fill="#11FFDD"/>
<circle cx="846.6" cy="724.0" r="12.3" fill="#FF0000"/>
<circle cx="830.0" cy="703.0" r="12.3" fill="#66FFAA"/>
<circle cx="845.6" cy="714.0" r="12.3" fill="#66FFAA"/>
<circle cx="839.4" cy="715.5" r="12.3" fill="#77FF99"/>
<circle cx="821.8" cy="736.4" r="12.3" fill="#FF7700"/>
<circle cx="815.4" cy="759.3" r="12.3" fill="#00FFEE"/>
<circle cx="842.4" cy="764.7" r="12.3" fill="#00BBFF"/>
<circle cx="849.0" cy="757.1" r="12.3" fill="#66FFAA"/>
<circle cx="879.5" cy="760.1" r="12.3" fill="#00CCFF"/>
<circle cx="743.4" cy="765.3" r="12.3" fill="#B0FF4C"/>
<circle cx="693.6" cy="729.1" r="12.3" fill="#FFC000"/>
<circle cx="787.3" cy="781.5" r="12.3" fill="#33FFCC"/>
<circle cx="861.3" cy="775.3" r="12.3" fill="#0099FF"/>
<circle cx="834.1" cy="773.8" r="12.3" fill="#0088FF"/>
<circle cx="888.5" cy="793.4" r="12.3" fill="#99FF66"/>
<circle cx="894.6" cy="780.6" r="12.3" fill="#44FFBB"/>
<circle cx="842.4" cy="788.9" r="12.3" fill="#0088FF"/>
<circle cx="812.9" cy="789.6" r="12.3" fill="#00BBFF"/>
<circle cx="887.8" cy="816.8" r="12.3" fill="#99FF66"/>
<circle cx="878.0" cy="796.4" r="12.3" fill="#0066FF"/>
<circle cx="885.5" cy="810.0" r="12.3" fill="#0055FF"/>
<circle cx="877.2" cy="815.3" r="12.3" fill="#0077FF"/>
<circle cx="929.4" cy="802.8" r="12.3" fill="#77FF88"/>
<circle cx="856.8" cy="808.5" r="12.3" fill="#00AAFF"/>
<circle cx="840.9" cy="810.0" r="12.3" fill="#0033FF"/>
<circle cx="783.0" cy="808.0" r="12.3" fill="#FF3300"/>
<circle cx="797.8" cy="811.6" r="12.3" fill="#0066FF"/>
<circle cx="784.2" cy="816.1" r="12.3" fill="#0077FF"/>
<circle cx="769.0" cy="819.1" r="12.3" fill="#0066FF"/>
<circle cx="823.5" cy="822.1" r="12.3" fill="#00BBFF"/>
<circle cx="881.0" cy="831.2" r="12.3" fill="#00CCFF"/>
<circle cx="861.3" cy="843.3" r="12.3" fill="#00EEFF"/>
<circle cx="847.7" cy="834.2" r="12.3" fill="#00FFFF"/>
<circle cx="865.1" cy="834.2" r="12.3" fill="#0022FF"/>
<circle cx="809.9" cy="837.3" r="12.3" fill="#0055FF"/>
<circle cx="811.4" cy="847.9" r="12.3" fill="#0044FF"/>
<circle cx="840.0" cy="855.7" r="12.3" fill="#0055FF"/>
<circle cx="852.0" cy="867.3" r="12.3" fill="#0055FF"/>
<circle cx="775.1" cy="843.3" r="12.3" fill="#0099FF"/>
<circle cx="779.8" cy="863.0" r="12.3" fill="#11EEDD"/>
<circle cx="785.7" cy="876.6" r="12.3" fill="#00EEFF"/>
<circle cx="793.6" cy="893.0" r="12.3" fill="#0066FF"/>
<circle cx="775.1" cy="894.7" r="12.3" fill="#0088FF"/>
<circle cx="760.0" cy="873.6" r="12.3" fill="#0033FF"/>
<circle cx="902.1" cy="755.6" r="12.3" fill="#0077FF"/>
<circle cx="820.5" cy="808.5" r="12.3" fill="#00BBFF"/>
<circle cx="790.2" cy="831.2" r="12.3" fill="#0077FF"/>
<circle cx="602.5" cy="753.3" r="12.3" fill="#FF8000"/>
<circle cx="591.2" cy="777.2" r="12.3" fill="#FFE000"/>
<circle cx="613.1" cy="818.8" r="12.3" fill="#990000"/>
<circle cx="653.0" cy="839.7" r="12.3" fill="#800000"/>
<circle cx="753.3" cy="798.7" r="12.3" fill="#33FFCC"/>
<circle cx="707.2" cy="816.1" r="12.3" fill="#33FFCC"/>
<circle cx="711.7" cy="811.6" r="12.3" fill="#66FF99"/>
<circle cx="746.5" cy="820.6" r="12.3" fill="#33FFCC"/>
<circle cx="746.5" cy="835.8" r="12.3" fill="#EEEE00"/>
<circle cx="730.6" cy="838.8" r="12.3" fill="#FF6600"/>
<circle cx="701.1" cy="839.5" r="12.3" fill="#55FFAA"/>
<circle cx="722.3" cy="849.3" r="12.3" fill="#00BBFF"/>
<circle cx="754.0" cy="848.5" r="12.3" fill="#0099FF"/>
<circle cx="673.2" cy="854.9" r="12.3" fill="#33FFCC"/>
<circle cx="655.0" cy="861.4" r="12.3" fill="#BBFF44"/>
<circle cx="597.9" cy="885.0" r="12.3" fill="#FF4000"/>
<circle cx="588.2" cy="873.6" r="12.3" fill="#F0FF00"/>
<circle cx="575.6" cy="890.2" r="12.3" fill="#FFD800"/>
<circle cx="621.9" cy="887.6" r="12.3" fill="#33FFCC"/>
<circle cx="634.6" cy="876.6" r="12.3" fill="#EEFF11"/>
<circle cx="624.8" cy="896.6" r="12.3" fill="#FFBB00"/>
<circle cx="678.4" cy="875.1" r="12.3" fill="#77FF88"/>
<circle cx="657.0" cy="885.7" r="12.3" fill="#77FF88"/>
<circle cx="686.0" cy="882.6" r="12.3" fill="#66FF99"/>
<circle cx="723.8" cy="869.0" r="12.3" fill="#FF8800"/>
<circle cx="696.6" cy="873.6" r="12.3" fill="#00EEFF"/>
<circle cx="711.7" cy="876.6" r="12.3" fill="#00DDFF"/>
<circle cx="736.4" cy="863.0" r="12.3" fill="#00CCFF"/>
<circle cx="661.8" cy="894.3" r="12.3" fill="#0099FF"/>
<circle cx="652.0" cy="903.0" r="12.3" fill="#11FFEE"/>
<circle cx="694.0" cy="900.3" r="12.3" fill="#0055FF"/>
<circle cx="760.1" cy="875.8" r="12.3" fill="#0033FF"/>
<circle cx="745.5" cy="896.5" r="12.3" fill="#0000FF"/>
<circle cx="790.0" cy="880.0" r="12.3" fill="#00FFFF"/>
<circle cx="779.8" cy="894.7" r="12.3" fill="#0066FF"/>
<circle cx="589.2" cy="906.8" r="12.3" fill="#AAFF55"/>
<circle cx="675.8" cy="903.7" r="12.3" fill="#CCFF33"/>
<circle cx="628.5" cy="916.0" r="12.3" fill="#77FF88"/>
<circle cx="642.1" cy="912.9" r="12.3" fill="#22FFDD"/>
<circle cx="649.5" cy="924.5" r="12.3" fill="#99FF66"/>
<circle cx="673.2" cy="923.8" r="12.3" fill="#33FFCC"/>
<circle cx="540.5" cy="919.4" r="12.3" fill="#FFD800"/>
<circle cx="588.5" cy="912.2" r="12.3" fill="#AAFF55"/>
<circle cx="595.3" cy="922.0" r="12.3" fill="#99FF66"/>
<circle cx="614.9" cy="937.1" r="12.3" fill="#00EEFF"/>
<circle cx="604.3" cy="939.4" r="12.3" fill="#44FFBB"/>
<circle cx="576.4" cy="954.5" r="12.3" fill="#88FF77"/>
<circle cx="558.7" cy="962.5" r="12.3" fill="#22FFDD"/>
<circle cx="563.5" cy="981.0" r="12.3" fill="#44FFBB"/>
<circle cx="573.6" cy="981.7" r="12.3" fill="#99FF66"/>
<circle cx="590.7" cy="982.5" r="12.3" fill="#00CCFF"/>
<circle cx="590.7" cy="991.6" r="12.3" fill="#00CCFF"/>
<circle cx="608.9" cy="990.0" r="12.3" fill="#00BBFF"/>
<circle cx="550.7" cy="999.9" r="12.3" fill="#0066FF"/>
<circle cx="571.1" cy="1005.2" r="12.3" fill="#00AAFF"/>
<circle cx="559.0" cy="1017.3" r="12.3" fill="#0099FF"/>
<circle cx="540.1" cy="1021.8" r="12.3" fill="#00CCFF"/>
<circle cx="535.5" cy="1036.9" r="12.3" fill="#00BBFF"/>
<circle cx="560.5" cy="1043.0" r="12.3" fill="#0099FF"/>
<circle cx="584.7" cy="1030.9" r="12.3" fill="#0077FF"/>
<circle cx="593.8" cy="1011.2" r="12.3" fill="#0077FF"/>
<circle cx="506.0" cy="1050.5" r="12.3" fill="#00BBFF"/>
<circle cx="521.2" cy="1061.1" r="12.3" fill="#0099FF"/>
<circle cx="513.6" cy="1074.7" r="12.3" fill="#0099FF"/>
<circle cx="545.4" cy="1068.7" r="12.3" fill="#0033FF"/>
<circle cx="602.8" cy="1068.7" r="12.3" fill="#0000FF"/>
<circle cx="627.8" cy="1052.0" r="12.3" fill="#00AAFF"/>
<circle cx="631.6" cy="1038.4" r="12.3" fill="#00BBFF"/>
<circle cx="605.9" cy="1020.3" r="12.3" fill="#0000FF"/>
<circle cx="628.5" cy="1005.2" r="12.3" fill="#0011FF"/>
<circle cx="668.6" cy="1020.1" r="12.3" fill="#0077FF"/>
<circle cx="680.4" cy="1015.6" r="12.3" fill="#0099FF"/>
<circle cx="649.7" cy="1017.8" r="12.3" fill="#0000FF"/>
<circle cx="667.6" cy="996.7" r="12.3" fill="#0000FF"/>
<circle cx="685.7" cy="1000.5" r="12.3" fill="#00AAFF"/>
<circle cx="694.8" cy="989.8" r="12.3" fill="#0000FF"/>
<circle cx="695.5" cy="973.2" r="12.3" fill="#0000FF"/>
<circle cx="719.0" cy="973.6" r="12.3" fill="#DDFF11"/>
<circle cx="734.9" cy="976.1" r="12.3" fill="#0066FF"/>
<circle cx="712.2" cy="956.6" r="12.3" fill="#0011FF"/>
<circle cx="743.2" cy="940.7" r="12.3" fill="#0077FF"/>
<circle cx="763.5" cy="936.6" r="12.3" fill="#0088FF"/>
<circle cx="723.8" cy="935.6" r="12.3" fill="#0022FF"/>
<circle cx="726.2" cy="936.8" r="12.3" fill="#0000FF"/>
<circle cx="758.0" cy="921.7" r="12.3" fill="#0022FF"/>
<circle cx="752.7" cy="914.1" r="12.3" fill="#0099FF"/>
<circle cx="755.6" cy="920.5" r="12.3" fill="#0022FF"/>
<circle cx="785.8" cy="915.8" r="12.3" fill="#0088FF"/>
<circle cx="752.5" cy="912.9" r="12.3" fill="#0099FF"/>
<circle cx="775.7" cy="895.7" r="12.3" fill="#0099FF"/>
<circle cx="796.4" cy="896.3" r="12.3" fill="#0077FF"/>
<circle cx="794.2" cy="892.9" r="12.3" fill="#0077FF"/>
<circle cx="788.0" cy="879.0" r="12.3" fill="#00FFFF"/>
<circle cx="746.0" cy="897.0" r="12.3" fill="#0000EE"/>
<circle cx="733.8" cy="882.3" r="12.3" fill="#0077FF"/>
<circle cx="720.0" cy="906.0" r="12.3" fill="#0011FF"/>
<circle cx="724.6" cy="906.3" r="12.3" fill="#00FFFF"/>
<circle cx="695.1" cy="900.6" r="12.3" fill="#0055FF"/>
<circle cx="695.5" cy="921.0" r="12.3" fill="#00BBFF"/>
<circle cx="698.5" cy="934.7" r="12.3" fill="#00CCFF"/>
<circle cx="719.3" cy="925.0" r="12.3" fill="#0022FF"/>
<circle cx="614.9" cy="962.8" r="12.3" fill="#0088FF"/>
<circle cx="640.6" cy="949.2" r="12.3" fill="#0088FF"/>
<circle cx="660.3" cy="947.7" r="12.3" fill="#0088FF"/>
<circle cx="628.5" cy="975.0" r="12.3" fill="#0088FF"/>
<circle cx="645.2" cy="965.8" r="12.3" fill="#0088FF"/>
<circle cx="675.4" cy="944.7" r="12.3" fill="#0044FF"/>
<circle cx="681.5" cy="958.3" r="12.3" fill="#0022FF"/>
<circle cx="677.8" cy="961.0" r="12.3" fill="#0044FF"/>
<circle cx="655.1" cy="945.8" r="12.3" fill="#0088FF"/>
<circle cx="649.0" cy="968.5" r="12.3" fill="#0066FF"/>
<circle cx="666.3" cy="978.0" r="12.3" fill="#0000FF"/>
<circle cx="636.1" cy="984.0" r="12.3" fill="#0077FF"/>
<circle cx="625.5" cy="993.1" r="12.3" fill="#00AAFF"/>
<circle cx="613.4" cy="1005.2" r="12.3" fill="#0011EE"/>
<circle cx="501.9" cy="1051.8" r="12.3" fill="#00CCFF"/>
<circle cx="541.2" cy="1024.5" r="12.3" fill="#00D4FF"/>
<circle cx="538.2" cy="1035.1" r="12.3" fill="#00D4FF"/>
<circle cx="521.6" cy="1062.3" r="12.3" fill="#0088FF"/>
<circle cx="491.3" cy="1075.2" r="12.3" fill="#0066FF"/>
<circle cx="514.0" cy="1076.7" r="12.3" fill="#00AAFF"/>
<circle cx="483.8" cy="1098.6" r="12.3" fill="#00DDFF"/>
<circle cx="465.6" cy="1119.8" r="12.3" fill="#00EEFF"/>
<circle cx="480.7" cy="1125.9" r="12.3" fill="#0044FF"/>
<circle cx="465.6" cy="1138.0" r="12.3" fill="#0033FF"/>
<circle cx="444.4" cy="1151.6" r="12.3" fill="#00AAFF"/>
<circle cx="450.5" cy="1156.1" r="12.3" fill="#0066FF"/>
<circle cx="597.2" cy="1086.5" r="12.3" fill="#0088FF"/>
<circle cx="604.7" cy="1062.3" r="12.3" fill="#0000EE"/>
<circle cx="597.2" cy="1080.5" r="12.3" fill="#0022FF"/>
<circle cx="586.6" cy="1068.4" r="12.3" fill="#0000EE"/>
<circle cx="583.6" cy="1038.1" r="12.3" fill="#0066FF"/>
<circle cx="556.3" cy="1059.3" r="12.3" fill="#0022FF"/>
<circle cx="535.2" cy="1059.3" r="12.3" fill="#00BBFF"/>
<circle cx="547.3" cy="1077.5" r="12.3" fill="#0044FF"/>
<circle cx="571.5" cy="1098.6" r="12.3" fill="#0011EE"/>
<circle cx="526.1" cy="1088.0" r="12.3" fill="#0022FF"/>
<circle cx="511.0" cy="1100.1" r="12.3" fill="#0000FF"/>
<circle cx="548.8" cy="1107.7" r="12.3" fill="#0066FF"/>
<circle cx="556.3" cy="1118.3" r="12.3" fill="#0044FF"/>
<circle cx="552.6" cy="1130.4" r="12.3" fill="#0000EE"/>
<circle cx="535.2" cy="1122.8" r="12.3" fill="#0000DD"/>
<circle cx="495.9" cy="1118.3" r="12.3" fill="#0000EE"/>
<circle cx="526.1" cy="1141.0" r="12.3" fill="#0000DD"/>
<circle cx="532.1" cy="1156.9" r="12.3" fill="#0011FF"/>
<circle cx="501.9" cy="1157.5" r="12.3" fill="#0000DD"/>
<circle cx="480.7" cy="1150.0" r="12.3" fill="#0000EE"/>
<circle cx="470.0" cy="1165.0" r="12.3" fill="#0000DD"/>
<circle cx="480.7" cy="1174.5" r="12.3" fill="#0000CC"/>
<circle cx="430.8" cy="1180.3" r="12.3" fill="#0000EE"/>
<circle cx="450.0" cy="1180.0" r="12.3" fill="#0000CC"/>
<circle cx="465.6" cy="1188.0" r="12.3" fill="#0000AA"/>
<circle cx="424.8" cy="1201.5" r="12.3" fill="#0000CC"/>
<circle cx="440.0" cy="1200.0" r="12.3" fill="#0000BB"/>
<circle cx="450.5" cy="1203.0" r="12.3" fill="#0000AA"/>
<circle cx="417.2" cy="1216.6" r="12.3" fill="#0000BB"/>
<circle cx="436.0" cy="1215.0" r="12.3" fill="#000099"/>
<circle cx="426.0" cy="1221.0" r="12.3" fill="#0000AA"/>
<circle cx="417.5" cy="1230.5" r="12.3" fill="#000099"/>
<circle cx="412.0" cy="1228.0" r="12.3" fill="#0000AA"/>
<circle cx="410.0" cy="1232.5" r="12.3" fill="#0000AA"/>
</g>
<line x1="406.6" y1="1238.7" x2="1595.0" y2="81.7" stroke="#000" stroke-width="3.8"/>
<line x1="406.6" y1="1230.5" x2="1541.8" y2="81.7" stroke="#000" stroke-width="3.8" stroke-dasharray="15.4 14.685" stroke-dashoffset="-1.7"/>
<defs><linearGradient id="jet" x1="0" y1="1" x2="0" y2="0">
<stop offset="0.0000" stop-color="#000080"/>
<stop offset="0.0156" stop-color="#00008F"/>
<stop offset="0.0312" stop-color="#00009F"/>
<stop offset="0.0469" stop-color="#0000AF"/>
<stop offset="0.0625" stop-color="#0000BF"/>
<stop offset="0.0781" stop-color="#0000CF"/>
<stop offset="0.0938" stop-color="#0000DF"/>
<stop offset="0.1094" stop-color="#0000EF"/>
<stop offset="0.1250" stop-color="#0000FF"/>
<stop offset="0.1406" stop-color="#0010FF"/>
<stop offset="0.1562" stop-color="#0020FF"/>
<stop offset="0.1719" stop-color="#0030FF"/>
<stop offset="0.1875" stop-color="#0040FF"/>
<stop offset="0.2031" stop-color="#0050FF"/>
<stop offset="0.2188" stop-color="#0060FF"/>
<stop offset="0.2344" stop-color="#0070FF"/>
<stop offset="0.2500" stop-color="#0080FF"/>
<stop offset="0.2656" stop-color="#008FFF"/>
<stop offset="0.2812" stop-color="#009FFF"/>
<stop offset="0.2969" stop-color="#00AFFF"/>
<stop offset="0.3125" stop-color="#00BFFF"/>
<stop offset="0.3281" stop-color="#00CFFF"/>
<stop offset="0.3438" stop-color="#00DFFF"/>
<stop offset="0.3594" stop-color="#00EFFF"/>
<stop offset="0.3750" stop-color="#00FFFF"/>
<stop offset="0.3906" stop-color="#10FFEF"/>
<stop offset="0.4062" stop-color="#20FFDF"/>
<stop offset="0.4219" stop-color="#30FFCF"/>
<stop offset="0.4375" stop-color="#40FFBF"/>
<stop offset="0.4531" stop-color="#50FFAF"/>
<stop offset="0.4688" stop-color="#60FF9F"/>
<stop offset="0.4844" stop-color="#70FF8F"/>
<stop offset="0.5000" stop-color="#80FF80"/>
<stop offset="0.5156" stop-color="#8FFF70"/>
<stop offset="0.5312" stop-color="#9FFF60"/>
<stop offset="0.5469" stop-color="#AFFF50"/>
<stop offset="0.5625" stop-color="#BFFF40"/>
<stop offset="0.5781" stop-color="#CFFF30"/>
<stop offset="0.5938" stop-color="#DFFF20"/>
<stop offset="0.6094" stop-color="#EFFF10"/>
<stop offset="0.6250" stop-color="#FFFF00"/>
<stop offset="0.6406" stop-color="#FFEF00"/>
<stop offset="0.6562" stop-color="#FFDF00"/>
<stop offset="0.6719" stop-color="#FFCF00"/>
<stop offset="0.6875" stop-color="#FFBF00"/>
<stop offset="0.7031" stop-color="#FFAF00"/>
<stop offset="0.7188" stop-color="#FF9F00"/>
<stop offset="0.7344" stop-color="#FF8F00"/>
<stop offset="0.7500" stop-color="#FF8000"/>
<stop offset="0.7656" stop-color="#FF7000"/>
<stop offset="0.7812" stop-color="#FF6000"/>
<stop offset="0.7969" stop-color="#FF5000"/>
<stop offset="0.8125" stop-color="#FF4000"/>
<stop offset="0.8281" stop-color="#FF3000"/>
<stop offset="0.8438" stop-color="#FF2000"/>
<stop offset="0.8594" stop-color="#FF1000"/>
<stop offset="0.8750" stop-color="#FF0000"/>
<stop offset="0.8906" stop-color="#EF0000"/>
<stop offset="0.9062" stop-color="#DF0000"/>
<stop offset="0.9219" stop-color="#CF0000"/>
<stop offset="0.9375" stop-color="#BF0000"/>
<stop offset="0.9531" stop-color="#AF0000"/>
<stop offset="0.9688" stop-color="#9F0000"/>
<stop offset="0.9844" stop-color="#8F0000"/>
<stop offset="1.0000" stop-color="#800000"/>
</linearGradient></defs>
<rect x="1619.7" y="81.8" width="117.89999999999986" height="1168.0" fill="url(#jet)" stroke="#262626" stroke-width="7.7"/>
<g stroke="#262626" stroke-width="7">
<line x1="1700" y1="132.6" x2="1737.6" y2="132.6"/>
<line x1="1700" y1="272.6" x2="1737.6" y2="272.6"/>
<line x1="1700" y1="412.7" x2="1737.6" y2="412.7"/>
<line x1="1700" y1="552.7" x2="1737.6" y2="552.7"/>
<line x1="1700" y1="692.7" x2="1737.6" y2="692.7"/>
<line x1="1700" y1="832.6" x2="1737.6" y2="832.6"/>
<line x1="1700" y1="972.6" x2="1737.6" y2="972.6"/>
<line x1="1700" y1="1112.6" x2="1737.6" y2="1112.6"/>
</g>
<text class="c" transform="translate(1768,157.2) scale(0.968,1)">0.8</text>
<text class="c" transform="translate(1768,297.2) scale(0.968,1)">0.7</text>
<text class="c" transform="translate(1768,437.3) scale(0.968,1)">0.6</text>
<text class="c" transform="translate(1768,577.3) scale(0.968,1)">0.5</text>
<text class="c" transform="translate(1768,717.3) scale(0.968,1)">0.4</text>
<text class="c" transform="translate(1768,857.2) scale(0.968,1)">0.3</text>
<text class="c" transform="translate(1768,997.2) scale(0.968,1)">0.2</text>
<text class="c" transform="translate(1768,1137.2) scale(0.968,1)">0.1</text>
<text class="y" x="374.6" y="108.1" text-anchor="end">1.5</text>
<text class="y" x="374.6" y="494.4" text-anchor="end">1</text>
<text class="y" x="374.6" y="880.2" text-anchor="end">0.5</text>
<text class="y" x="374.6" y="1267.2" text-anchor="end">0</text>
<text class="t" x="406.6" y="1342.7" text-anchor="middle">0</text>
<text class="t" x="803.5" y="1342.7" text-anchor="middle">0.5</text>
<text class="t" x="1198.9" y="1342.7" text-anchor="middle">1</text>
<text class="t" x="1595.0" y="1342.7" text-anchor="middle">1.5</text>
<text class="l" x="1001.5" y="1439.5" text-anchor="middle">AERONET monthly AOD (reference data)</text>
<text class="l" transform="translate(146.4,668) rotate(-90) scale(0.998,1)" text-anchor="middle">AERONET monthly AOD</text>
<text class="l" transform="translate(237,660) rotate(-90) scale(0.998,1)" text-anchor="middle">(free-screening data)</text>
<text class="m" transform="translate(1946,664.7) rotate(-90) scale(0.937,1)" text-anchor="middle">mean CV</text>
<text class="a" transform="translate(436.5,160) scale(0.99,1)">y = 1.0395x + 0.0106</text>
<text class="a" transform="translate(437.3,250) scale(0.99,1)">N=2475</text>
<text class="a" transform="translate(437.3,340) scale(0.99,1)">R² = 0.9587</text>
<text class="a" transform="translate(437.3,430) scale(0.99,1)">UPD = 12.26%</text>
</svg></body></html>
